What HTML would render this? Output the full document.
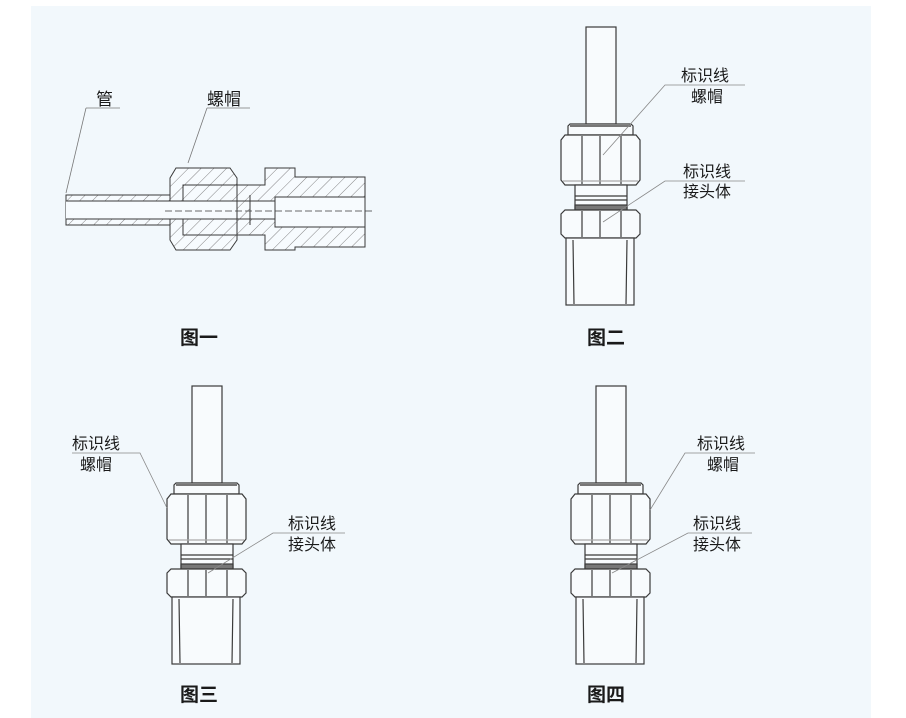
<!DOCTYPE html>
<html><head><meta charset="utf-8"><style>
html,body{margin:0;padding:0;background:#fff;width:906px;height:718px;overflow:hidden}
svg{display:block}
text{font-family:"Liberation Sans","Noto Sans CJK SC",sans-serif;fill:#1a1a1a}
</style></head><body>
<svg width="906" height="718" viewBox="0 0 906 718" xmlns="http://www.w3.org/2000/svg">
<defs>
<pattern id="h" width="9" height="9" patternUnits="userSpaceOnUse" patternTransform="rotate(45)">
<rect width="9" height="9" fill="#f7fbfe"/><line x1="0" y1="0" x2="0" y2="9" stroke="#666" stroke-width="0.8"/></pattern>
<g id="fit" stroke="#3a3a3a" stroke-width="1.2" fill="#f8fbfd">
<rect x="586" y="27" width="30" height="97"/>
<path d="M568 135 L568 126 L570 124 L631 124 L633 126 L633 135 Z"/>
<line x1="570" y1="126" x2="631" y2="126" stroke="#777" stroke-width="2"/>
<path d="M561 140 L565 135 L636 135 L640 140 L640 180 L636 185 L565 185 L561 180 Z"/>
<line x1="582" y1="136" x2="582" y2="184"/><line x1="600" y1="136" x2="600" y2="184"/><line x1="621" y1="136" x2="621" y2="184"/>
<line x1="563" y1="181" x2="638" y2="181" stroke="#aaa"/>
<rect x="575" y="185" width="52" height="25"/>
<line x1="575" y1="196" x2="627" y2="196"/><line x1="575" y1="200" x2="627" y2="200"/>
<rect x="575" y="205" width="52" height="5" fill="#777"/>
<path d="M561 214 L565 210 L636 210 L640 214 L640 234 L636 238 L565 238 L561 234 Z"/>
<line x1="582" y1="211" x2="582" y2="237"/><line x1="600" y1="211" x2="600" y2="237"/><line x1="621" y1="211" x2="621" y2="237"/>
<rect x="566" y="238" width="68" height="67"/>
<line x1="573" y1="240" x2="574" y2="304"/><line x1="627" y1="240" x2="626" y2="304"/>
</g>
</defs>
<rect x="31" y="6" width="840" height="712" fill="#f2f8fc"/>

<g stroke="#3a3a3a" stroke-width="1">
<rect x="66" y="195" width="184" height="30" fill="url(#h)"/>
<rect x="66" y="201" width="184" height="18" fill="#f7fbfe"/>
<path d="M170 178 L176 168 L230 168 L237 178 L237 240 L230 250 L176 250 L170 240 Z" fill="url(#h)"/>
<rect x="183" y="185" width="54" height="16" fill="url(#h)"/>
<rect x="183" y="219" width="54" height="16" fill="url(#h)"/>
<rect x="66" y="201" width="200" height="18" fill="#f7fbfe" stroke="none"/>
<path d="M237 185 L265 185 L265 168 L295 168 L295 177 L365 177 L365 247 L295 247 L295 250 L265 250 L265 235 L237 235 Z" fill="url(#h)"/>
<rect x="250" y="201" width="25" height="18" fill="#f7fbfe"/>
<rect x="275" y="197" width="90" height="30" fill="#f7fbfe"/>
<line x1="66" y1="201" x2="250" y2="201"/><line x1="66" y1="219" x2="250" y2="219"/>
<line x1="250" y1="195" x2="250" y2="225"/>
<line x1="165" y1="211" x2="372" y2="211" stroke-dasharray="7,3" stroke-width="0.8"/>
</g>
<g stroke="#777" stroke-width="0.8" fill="none">
<polyline points="86,108 120,108"/><line x1="86" y1="108" x2="66" y2="193"/>
<polyline points="207,108 250,108"/><line x1="207" y1="108" x2="188" y2="163"/>
</g>
<text x="96" y="105" font-size="17">管</text>
<text x="207" y="105" font-size="17">螺帽</text>
<text x="180" y="344" font-size="19" font-weight="bold">图一</text>

<use href="#fit"/>
<g stroke="#888" stroke-width="0.8" fill="none">
<polyline points="745,85 665,85 603,155"/><polyline points="745,181 665,181 603,222"/>
</g>
<text x="681" y="81" font-size="16">标识线</text><text x="691" y="102" font-size="16">螺帽</text>
<text x="683" y="177" font-size="16">标识线</text><text x="683" y="197" font-size="16">接头体</text>
<text x="587" y="344" font-size="19" font-weight="bold">图二</text>

<use href="#fit" transform="translate(-394,359)"/>
<g stroke="#888" stroke-width="0.8" fill="none">
<polyline points="72,453 140,453 167,508"/><polyline points="345,533 273,533 208,573"/>
</g>
<text x="72" y="449" font-size="16">标识线</text><text x="80" y="470" font-size="16">螺帽</text>
<text x="288" y="529" font-size="16">标识线</text><text x="288" y="550" font-size="16">接头体</text>
<text x="180" y="701" font-size="19" font-weight="bold">图三</text>

<use href="#fit" transform="translate(10,359)"/>
<g stroke="#888" stroke-width="0.8" fill="none">
<polyline points="755,453 685,453 650,510"/><polyline points="752,533 688,533 612,573"/>
</g>
<text x="697" y="449" font-size="16">标识线</text><text x="707" y="470" font-size="16">螺帽</text>
<text x="693" y="529" font-size="16">标识线</text><text x="693" y="550" font-size="16">接头体</text>
<text x="587" y="701" font-size="19" font-weight="bold">图四</text>
</svg>
</body></html>
